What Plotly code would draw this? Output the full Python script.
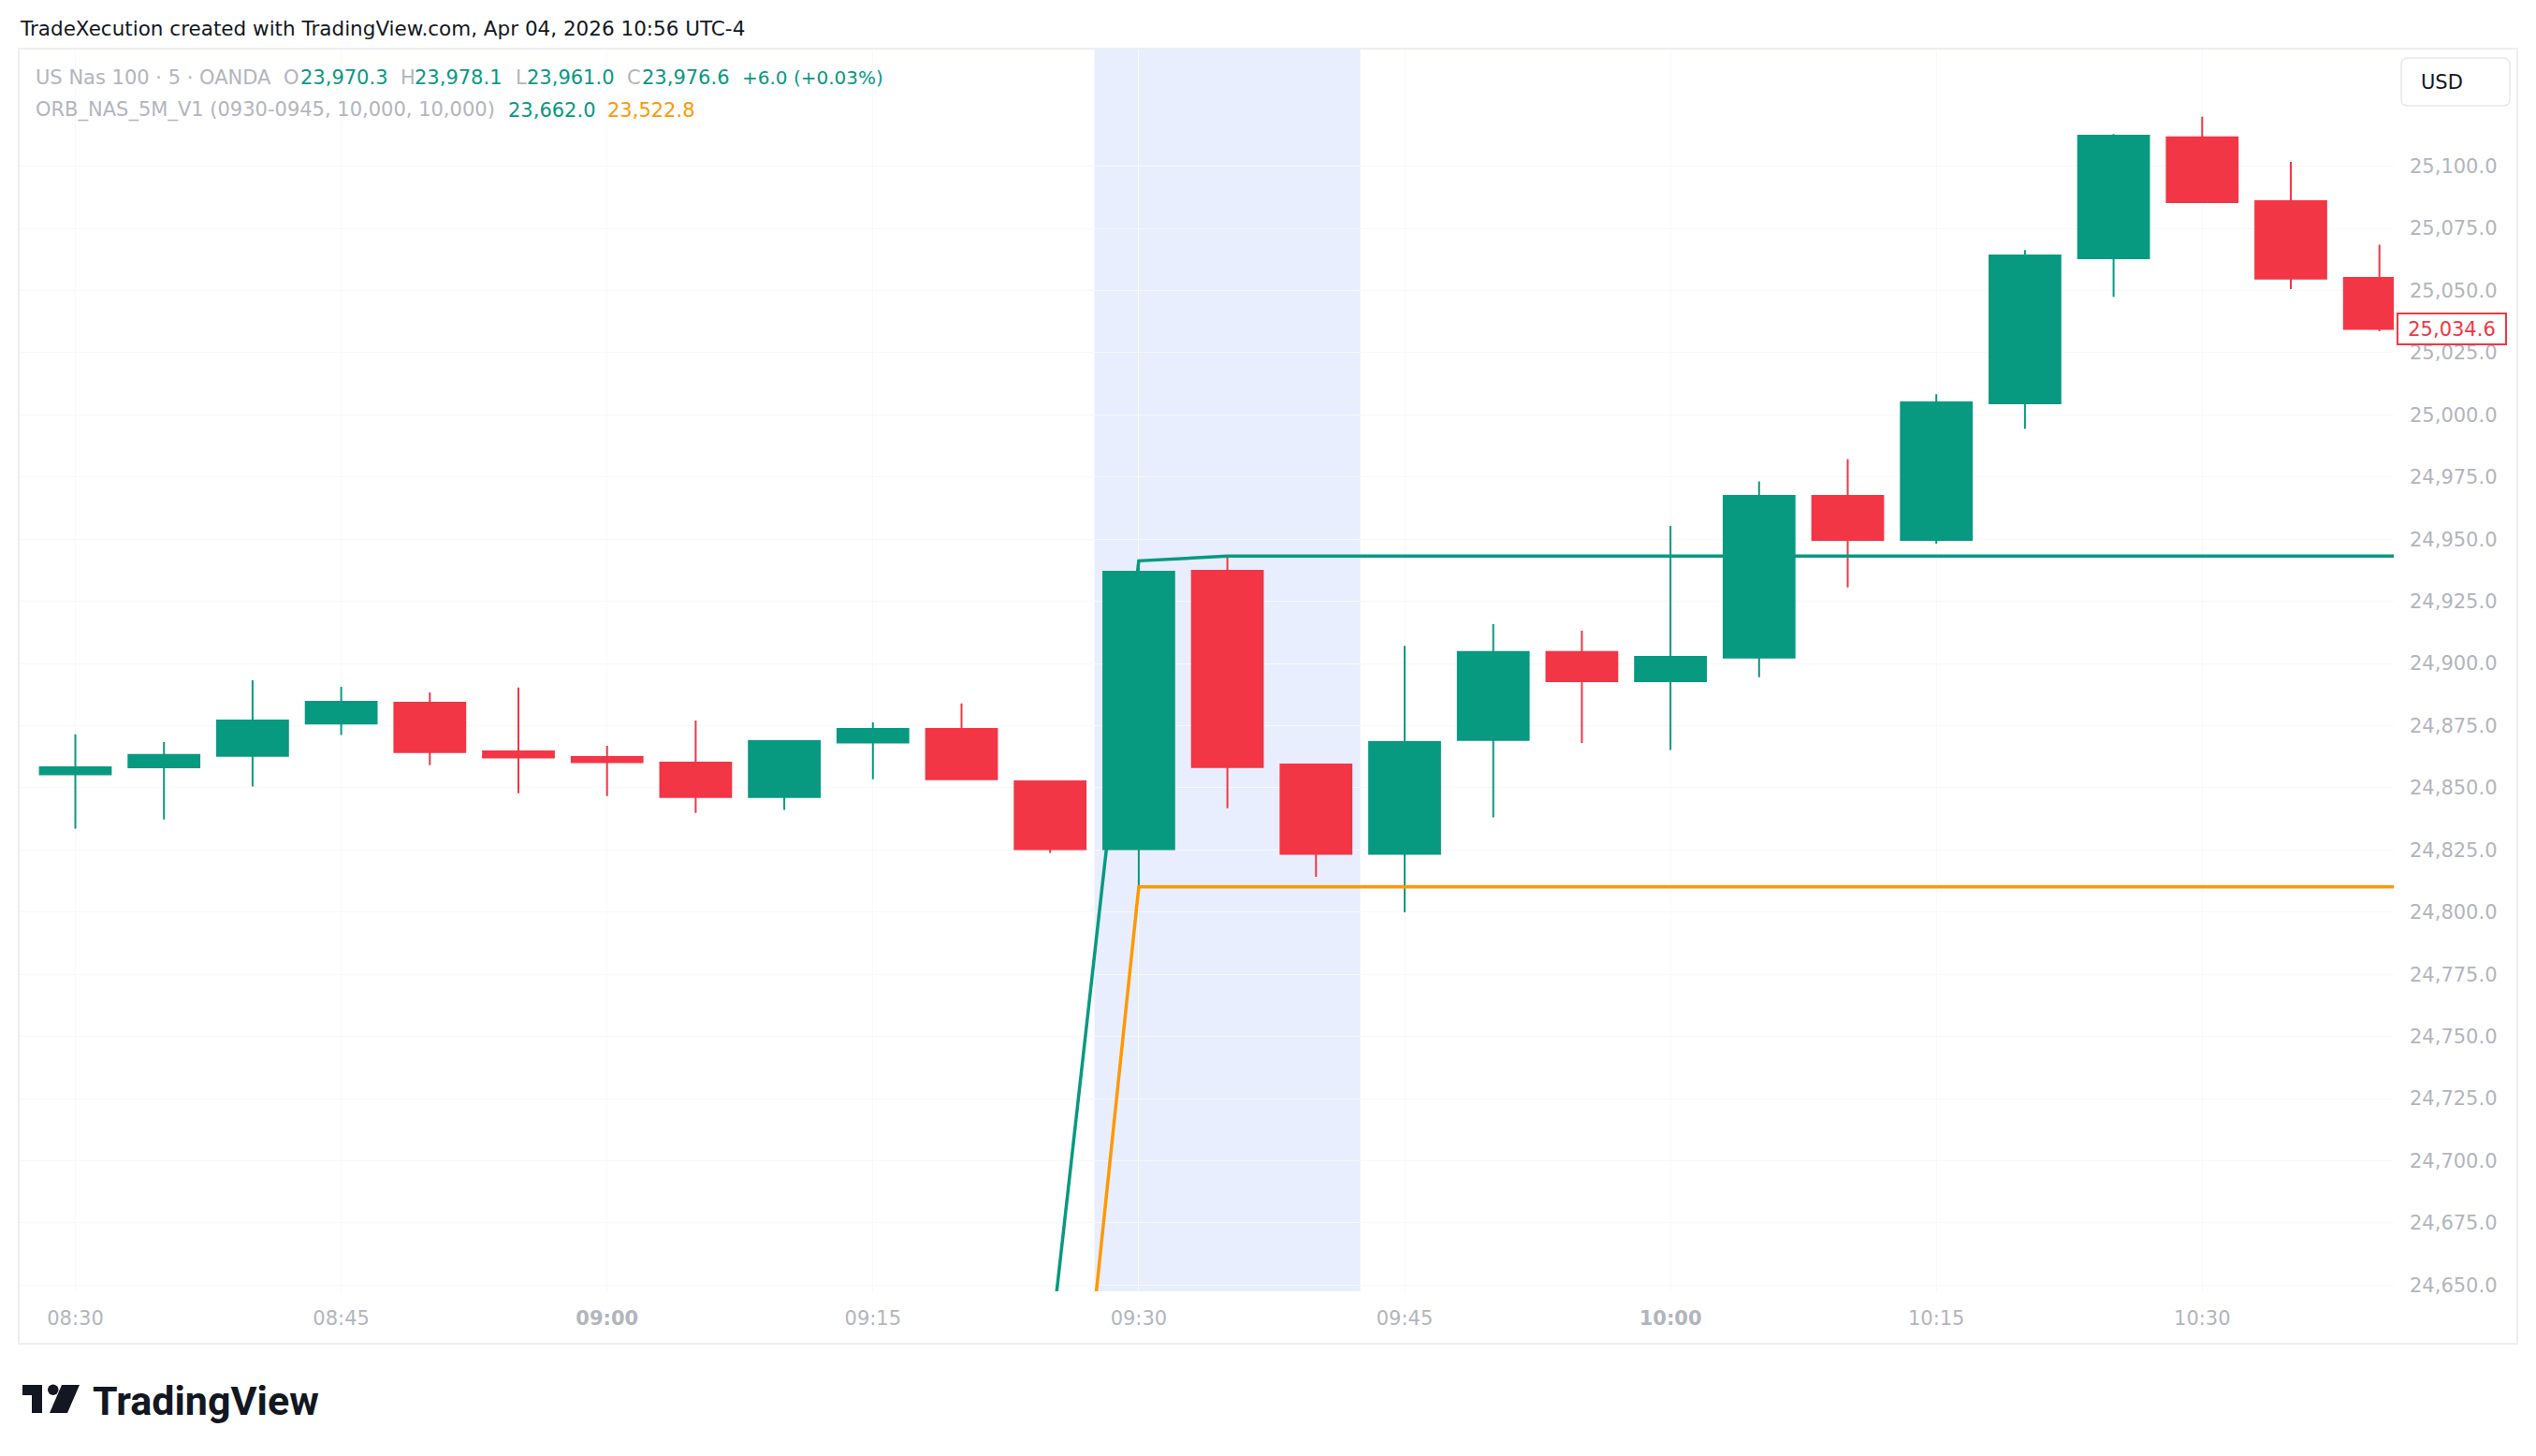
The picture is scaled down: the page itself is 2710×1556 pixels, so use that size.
import plotly.graph_objects as go

# ---------------- data ----------------
DAY = "2026-04-03"
times = ["08:30", "08:35", "08:40", "08:45", "08:50", "08:55", "09:00", "09:05", "09:10",
         "09:15", "09:20", "09:25", "09:30", "09:35", "09:40", "09:45", "09:50", "09:55",
         "10:00", "10:05", "10:10", "10:15", "10:20", "10:25", "10:30", "10:35", "10:40"]
opens = [24855.4, 24858.3, 24862.9, 24875.9, 24884.2, 24864.7, 24862.4, 24860.1, 24846.3,
         24868.2, 24873.7, 24852.6, 24825.3, 24937.3, 24859.4, 24823.4, 24869.3, 24904.6,
         24892.9, 24902.4, 24967.4, 24949.7, 25004.7, 25063.0, 25111.6, 25086.0, 25055.1]
highs = [24871.5, 24868.4, 24893.3, 24890.6, 24888.4, 24890.3, 24866.9, 24877.1, 24869.2,
         24876.3, 24883.9, 24852.6, 24941.3, 24942.9, 24859.8, 24907.1, 24915.8, 24913.2,
         24955.4, 24973.2, 24982.2, 25008.3, 25066.3, 25113.0, 25119.9, 25101.8, 25068.5]
lows = [24833.6, 24837.3, 24850.5, 24871.2, 24859.1, 24847.8, 24846.7, 24839.9, 24841.1,
        24853.5, 24853.5, 24823.8, 24810.2, 24841.8, 24814.2, 24799.9, 24838.1, 24868.0,
        24865.2, 24894.5, 24930.6, 24948.2, 24994.4, 25047.5, 25085.6, 25050.6, 25033.6]
closes = [24858.3, 24863.2, 24877.1, 24884.6, 24864.4, 24862.2, 24860.3, 24846.3, 24868.8,
          24873.7, 24853.5, 24825.3, 24936.9, 24858.4, 24823.4, 24868.4, 24904.6, 24892.9,
          24902.7, 24967.4, 24949.7, 25005.0, 25064.1, 25112.3, 25085.6, 25054.8, 25034.6]

# ORB indicator (includes the next, off-screen bar)
orb_times = times + ["10:45"]
orb_high = [24623.9] * 12 + [24941.3] + [24943.2] * 15
orb_low = [24470.1] * 12 + [24810.2] * 16

orb_window = ["09:27:30", "09:42:30"]
x_window = ["08:26:48.3", "10:40:48.5"]
y_window = [24647.5, 25147.3]

x_tick_times = ["08:30", "08:45", "09:00", "09:15", "09:30", "09:45", "10:00", "10:15", "10:30"]
x_tick_text = ["08:30", "08:45", "<b>09:00</b>", "09:15", "09:30", "09:45", "<b>10:00</b>", "10:15", "10:30"]
y_tick_vals = [24650, 24675, 24700, 24725, 24750, 24775, 24800, 24825, 24850, 24875, 24900,
               24925, 24950, 24975, 25000, 25025, 25050, 25075, 25100]

header_text = "TradeXecution created with TradingView.com, Apr 04, 2026 10:56 UTC-4"
symbol_text = "US Nas 100 · 5 · OANDA"
ohlc_labels = ["O", "H", "L", "C"]
ohlc_values = ["23,970.3", "23,978.1", "23,961.0", "23,976.6"]
change_text = "+6.0 (+0.03%)"
indicator_text = "ORB_NAS_5M_V1 (0930-0945, 10,000, 10,000)"
indicator_values = ["23,662.0", "23,522.8"]
last_price = closes[-1]

# ---------------- styling ----------------
GREEN = "#089981"
RED = "#f23645"
ORANGE = "#ff9800"
GRAY = "#b2b5be"
DARK = "#131722"
GRID = "#f7f8fa"
FONT = "DejaVu Sans"

W, H = 2710, 1556
PL, PR, PT, PB = 20, 2558, 52, 1380
PW, PH = PR - PL, PB - PT


def px(x):
    return (x - PL) / PW


def py(y):
    return (PB - y) / PH


def ts(t):
    return f"{DAY} {t}"


fig = go.Figure()

fig.add_trace(go.Candlestick(
    x=[ts(t) for t in times], open=opens, high=highs, low=lows, close=closes,
    increasing=dict(line=dict(color=GREEN, width=2), fillcolor=GREEN),
    decreasing=dict(line=dict(color=RED, width=2), fillcolor=RED),
    whiskerwidth=0, hoverinfo="skip", showlegend=False,
))
fig.add_trace(go.Scatter(x=[ts(t) for t in orb_times], y=orb_high, mode="lines",
                         line=dict(color=GREEN, width=3.5), hoverinfo="skip", showlegend=False))
fig.add_trace(go.Scatter(x=[ts(t) for t in orb_times], y=orb_low, mode="lines",
                         line=dict(color=ORANGE, width=3.5), hoverinfo="skip", showlegend=False))

shapes = []
# opening range shading
shapes.append(dict(type="rect", xref="x", yref="paper", x0=ts(orb_window[0]), x1=ts(orb_window[1]),
                   y0=0, y1=1, fillcolor="#e8eefd", line=dict(width=0), layer="below"))
# outer frame
shapes.append(dict(type="rect", xref="paper", yref="paper", x0=px(20), x1=px(2690),
                   y0=py(1436), y1=py(52), line=dict(color="#eceef2", width=2),
                   fillcolor="rgba(0,0,0,0)", layer="above"))
# USD button (rounded rect)
bx0, bx1, by0, by1, r = 2566, 2682, 62, 113, 7
path = (f"M {px(bx0 + r)},{py(by0)} L {px(bx1 - r)},{py(by0)} Q {px(bx1)},{py(by0)} {px(bx1)},{py(by0 + r)} "
        f"L {px(bx1)},{py(by1 - r)} Q {px(bx1)},{py(by1)} {px(bx1 - r)},{py(by1)} "
        f"L {px(bx0 + r)},{py(by1)} Q {px(bx0)},{py(by1)} {px(bx0)},{py(by1 - r)} "
        f"L {px(bx0)},{py(by0 + r)} Q {px(bx0)},{py(by0)} {px(bx0 + r)},{py(by0)} Z")
shapes.append(dict(type="path", xref="paper", yref="paper", path=path,
                   line=dict(color="#e6e8ee", width=1.5), fillcolor="white", layer="above"))
# TradingView logo mark
shapes.append(dict(type="rect", xref="paper", yref="paper", x0=px(24), x1=px(45), y0=py(1491), y1=py(1480),
                   fillcolor=DARK, line=dict(width=0)))
shapes.append(dict(type="rect", xref="paper", yref="paper", x0=px(34), x1=px(45), y0=py(1510), y1=py(1480),
                   fillcolor=DARK, line=dict(width=0)))
shapes.append(dict(type="circle", xref="paper", yref="paper", x0=px(51), x1=px(62.5), y0=py(1491), y1=py(1479.5),
                   fillcolor=DARK, line=dict(width=0)))
shapes.append(dict(type="path", xref="paper", yref="paper",
                   path=f"M {px(66)},{py(1480)} L {px(85)},{py(1480)} L {px(72)},{py(1510)} L {px(53)},{py(1510)} Z",
                   fillcolor=DARK, line=dict(width=0)))

annotations = []


def label(x, y, text, color, size=21, family=FONT, anchor="left"):
    annotations.append(dict(xref="paper", yref="paper", x=px(x), y=py(y), text=text, showarrow=False,
                            xanchor=anchor, yanchor="middle", font=dict(family=family, size=size, color=color)))


label(19, 30, header_text, DARK, size=21.5)
label(36, 83, symbol_text, GRAY)
for lx, l, vx, v in zip([301, 426, 548.5, 668], ohlc_labels, [319, 441, 561, 684], ohlc_values):
    label(lx, 83, l, GRAY)
    label(vx, 83, v, GREEN)
label(791, 83, change_text, GREEN, size=20)
label(36, 117.5, indicator_text, GRAY)
label(541, 117.5, indicator_values[0], GREEN)
label(647, 117.5, indicator_values[1], ORANGE)
label(2585, 88, "USD", DARK)
label(97, 1497, "<b>TradingView</b>", DARK, size=43, family="Roboto")

# last price tag
annotations.append(dict(xref="paper", yref="y", x=px(2620), y=last_price, text=f"{last_price:,.1f}",
                        showarrow=False, xanchor="center", yanchor="middle",
                        font=dict(family=FONT, size=21, color=RED), bgcolor="white",
                        bordercolor=RED, borderwidth=2, borderpad=4, width=106, height=23))

fig.update_layout(
    width=W, height=H,
    margin=dict(l=PL, r=W - PR, t=PT, b=H - PB, pad=0),
    paper_bgcolor="white", plot_bgcolor="white",
    showlegend=False, boxgap=0.2, boxgroupgap=0,
    shapes=shapes, annotations=annotations,
    xaxis=dict(type="date", range=[ts(x_window[0]), ts(x_window[1])],
               rangeslider=dict(visible=False),
               tickvals=[ts(t) for t in x_tick_times], ticktext=x_tick_text,
               showgrid=True, gridcolor=GRID, gridwidth=1, zeroline=False, showline=False,
               ticks="", ticklabelstandoff=14,
               tickfont=dict(family=FONT, size=21, color=GRAY)),
    yaxis=dict(side="right", range=y_window, tickvals=y_tick_vals, tickformat=",.1f",
               showgrid=True, gridcolor=GRID, gridwidth=1, zeroline=False, showline=False,
               ticks="", ticklabelstandoff=16,
               tickfont=dict(family=FONT, size=21, color=GRAY)),
    hovermode=False,
)

fig.write_html("out.html", config={"displayModeBar": False})
